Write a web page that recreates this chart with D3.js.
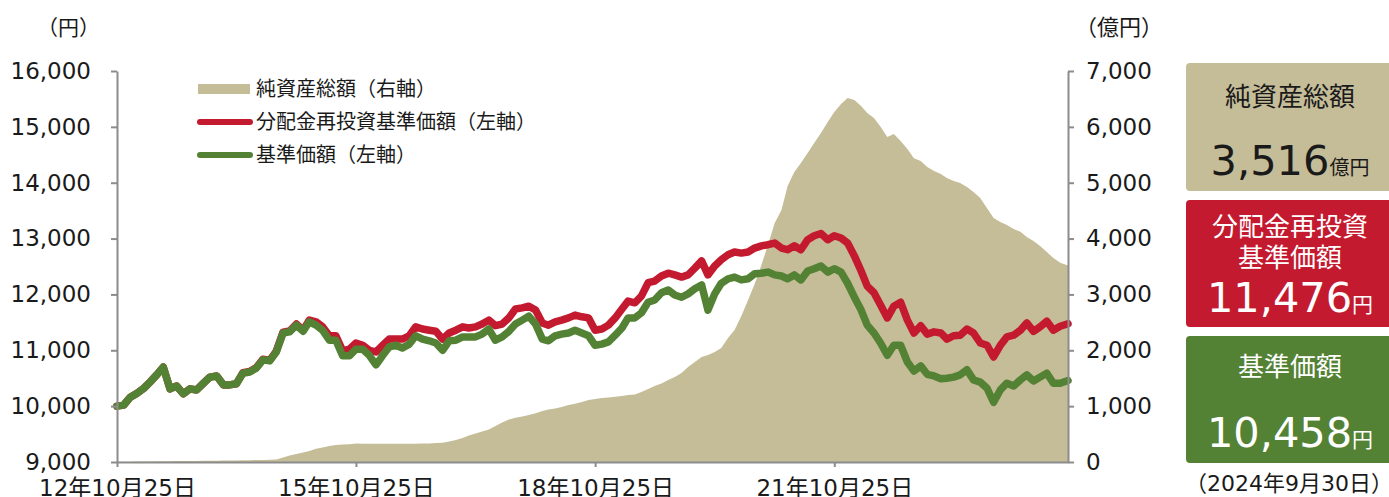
<!DOCTYPE html>
<html><head><meta charset="utf-8">
<script src="https://cdn.jsdelivr.net/npm/d3@7"></script>
<style>
body{margin:0;background:#fff;}
svg{display:block;}
text{font-family:"DejaVu Sans","Noto Sans CJK JP",sans-serif;}
</style></head><body>
<svg id="c" width="1389" height="497"></svg>
<script>
// ---- data ----
const dates = [
"2012-10-25","2012-11-25","2012-12-25",
"2013-01-25","2013-02-25","2013-03-25","2013-04-25","2013-05-25","2013-06-25","2013-07-25","2013-08-25","2013-09-25","2013-10-25","2013-11-25","2013-12-25",
"2014-01-25","2014-02-25","2014-03-25","2014-04-25","2014-05-25","2014-06-25","2014-07-25","2014-08-25","2014-09-25","2014-10-25","2014-11-25","2014-12-25",
"2015-01-25","2015-02-25","2015-03-25","2015-04-25","2015-05-25","2015-06-25","2015-07-25","2015-08-25","2015-09-25","2015-10-25","2015-11-25","2015-12-25",
"2016-01-25","2016-02-25","2016-03-25","2016-04-25","2016-05-25","2016-06-25","2016-07-25","2016-08-25","2016-09-25","2016-10-25","2016-11-25","2016-12-25",
"2017-01-25","2017-02-25","2017-03-25","2017-04-25","2017-05-25","2017-06-25","2017-07-25","2017-08-25","2017-09-25","2017-10-25","2017-11-25","2017-12-25",
"2018-01-25","2018-02-25","2018-03-25","2018-04-25","2018-05-25","2018-06-25","2018-07-25","2018-08-25","2018-09-25","2018-10-25","2018-11-25","2018-12-25",
"2019-01-25","2019-02-25","2019-03-25","2019-04-25","2019-05-25","2019-06-25","2019-07-25","2019-08-25","2019-09-25","2019-10-25","2019-11-25","2019-12-25",
"2020-01-25","2020-02-25","2020-03-25","2020-04-25","2020-05-25","2020-06-25","2020-07-25","2020-08-25","2020-09-25","2020-10-25","2020-11-25","2020-12-25",
"2021-01-25","2021-02-25","2021-03-25","2021-04-25","2021-05-25","2021-06-25","2021-07-25","2021-08-25","2021-09-25","2021-10-25","2021-11-25","2021-12-25",
"2022-01-25","2022-02-25","2022-03-25","2022-04-25","2022-05-25","2022-06-25","2022-07-25","2022-08-25","2022-09-25","2022-10-25","2022-11-25","2022-12-25",
"2023-01-25","2023-02-25","2023-03-25","2023-04-25","2023-05-25","2023-06-25","2023-07-25","2023-08-25","2023-09-25","2023-10-25","2023-11-25","2023-12-25",
"2024-01-25","2024-02-25","2024-03-25","2024-04-25","2024-05-25","2024-06-25","2024-07-25","2024-08-25","2024-09-30"
];
// 純資産総額（億円）
const netAssets = [
3,5,6,
8,9,10,12,14,15,16,17,18,20,21,22,
23,25,27,28,30,32,35,38,42,45,80,115,
145,170,195,235,260,285,305,315,320,330,325,328,
327,325,326,327,328,326,327,330,332,340,345,365,
395,430,475,510,545,580,645,705,760,790,815,840,
875,915,940,960,985,1020,1045,1075,1110,1130,1145,1155,
1170,1180,1200,1210,1255,1305,1360,1405,1470,1520,1595,1700,
1790,1880,1915,1970,2040,2220,2365,2615,2900,3185,3525,3885,
4280,4510,4940,5190,5355,5530,5710,5890,6085,6265,6410,6515,
6480,6375,6250,6160,6000,5820,5870,5745,5605,5440,5390,5280,
5210,5155,5085,5030,4995,4925,4835,4725,4545,4370,4295,4245,
4170,4120,4030,3955,3865,3760,3650,3565,3516
];
// 分配金再投資基準価額（円）
const reinvestNav = [
10000,10020,10160,
10230,10320,10430,10560,10700,10310,10360,10220,10310,10290,10410,10520,
10540,10380,10380,10400,10600,10620,10690,10840,10820,10985,11325,11345,
11470,11360,11540,11510,11420,11260,11260,10990,11020,11130,11090,11000,
10970,11090,11200,11200,11200,11260,11420,11380,11360,11340,11200,11310,
11360,11420,11400,11420,11470,11540,11440,11470,11580,11740,11760,11790,
11720,11490,11450,11510,11540,11580,11630,11600,11580,11360,11380,11450,
11580,11740,11880,11850,11970,12210,12240,12330,12380,12350,12310,12350,
12470,12600,12350,12510,12620,12710,12760,12740,12760,12830,12870,12890,
12920,12830,12800,12870,12800,12980,13050,13090,12980,13050,13010,12920,
12690,12420,12150,12030,11810,11580,11790,11860,11540,11310,11440,11290,
11330,11310,11200,11260,11270,11380,11310,11130,11090,10880,11090,11240,
11270,11360,11490,11340,11420,11520,11360,11430,11476
];
// 基準価額（円）
const nav = [
10000,10020,10160,
10230,10320,10430,10560,10700,10310,10360,10220,10310,10290,10410,10520,
10540,10380,10380,10400,10590,10610,10680,10830,10810,10970,11310,11330,
11450,11340,11510,11450,11360,11180,11180,10900,10900,11020,11020,10910,
10740,10910,11060,11090,11040,11110,11260,11200,11170,11130,11000,11170,
11180,11240,11240,11240,11290,11380,11180,11240,11340,11470,11540,11610,
11470,11200,11170,11260,11290,11310,11360,11310,11260,11090,11110,11150,
11270,11400,11580,11580,11670,11860,11900,12030,12080,11990,11950,12010,
12100,12170,11720,12010,12200,12280,12310,12260,12280,12370,12380,12400,
12350,12330,12280,12350,12260,12420,12460,12510,12400,12460,12400,12200,
11950,11720,11450,11310,11130,10910,11090,11090,10790,10630,10720,10570,
10540,10490,10500,10520,10560,10650,10470,10430,10320,10070,10290,10410,
10360,10470,10560,10450,10520,10590,10410,10410,10458
];
const leftTicks = [9000,10000,11000,12000,13000,14000,15000,16000];
const rightTicks = [0,1000,2000,3000,4000,5000,6000,7000];
const xTickDates = ["2012-10-25","2015-10-25","2018-10-25","2021-10-25"];
const xTickLabels = ["12年10月25日","15年10月25日","18年10月25日","21年10月25日"];
const legendLabels = ["純資産総額（右軸）","分配金再投資基準価額（左軸）","基準価額（左軸）"];
const boxTitles = [["純資産総額"],["分配金再投資","基準価額"],["基準価額"]];
const boxValues = ["3,516","11,476","10,458"];
const boxUnits = ["億円","円","円"];
const asOf = "（2024年9月30日）";

// ---- chart ----
const C = {tan:"#c5bd98", red:"#c41a30", green:"#548235", axis:"#8c8c8c", text:"#1a1a1a"};
const parse = d3.timeParse("%Y-%m-%d");
const data = dates.map((d,i)=>({date:parse(d), a:netAssets[i], r:reinvestNav[i], n:nav[i]}));
const svg = d3.select("#c");
const L=117, R=1068, T=71, B=462;
const x = d3.scaleTime().domain([parse("2012-10-25"), parse("2024-09-30")]).range([L,R]);
const yL = d3.scaleLinear().domain([9000,16000]).range([B,T]);
const yR = d3.scaleLinear().domain([0,7000]).range([B,T]);

svg.append("path").datum(data)
  .attr("fill",C.tan)
  .attr("d", d3.area().x(d=>x(d.date)).y0(yR(0)).y1(d=>yR(d.a)));

const line = key => d3.line().x(d=>x(d.date)).y(d=>yL(d[key]));
svg.append("path").datum(data).attr("fill","none").attr("stroke",C.red)
  .attr("stroke-width",7.5).attr("stroke-linejoin","round").attr("stroke-linecap","round")
  .attr("d", line("r"));
svg.append("path").datum(data).attr("fill","none").attr("stroke",C.green)
  .attr("stroke-width",7.5).attr("stroke-linejoin","round").attr("stroke-linecap","round")
  .attr("d", line("n"));

function styleAxis(g){
  g.select(".domain").attr("stroke",C.axis).attr("stroke-width",2);
  g.selectAll(".tick line").attr("stroke",C.axis).attr("stroke-width",2);
  g.selectAll("text").attr("fill",C.text).style("font-size","23px")
    .style("font-family",'"DejaVu Sans","Noto Sans CJK JP",sans-serif');
}
const gl = svg.append("g").attr("transform",`translate(${L},0)`)
  .call(d3.axisLeft(yL).tickValues(leftTicks).tickSize(6).tickSizeOuter(0).tickPadding(20).tickFormat(d3.format(",")));
styleAxis(gl);
const gr = svg.append("g").attr("transform",`translate(${R},0)`)
  .call(d3.axisRight(yR).tickValues(rightTicks).tickSize(6).tickSizeOuter(0).tickPadding(12).tickFormat(d3.format(",")));
styleAxis(gr);
const gb = svg.append("g").attr("transform",`translate(0,${B})`)
  .call(d3.axisBottom(x).tickValues(xTickDates.map(parse)).tickSize(5).tickSizeOuter(0)
    .tickFormat((d,i)=>xTickLabels[i]));
styleAxis(gb);
gb.selectAll("text").attr("y",34).attr("dy",0);

// unit labels
svg.append("text").attr("x",37).attr("y",35).text("（円）").attr("fill",C.text).style("font-size","21px");
svg.append("text").attr("x",1075).attr("y",35).text("（億円）").attr("fill",C.text).style("font-size","22px");

// legend
const lg = svg.append("g");
const ly = [89,122,155];
lg.append("rect").attr("x",198).attr("y",ly[0]-5).attr("width",52).attr("height",10).attr("fill",C.tan);
[[1,C.red],[2,C.green]].forEach(([i,c])=>{
  lg.append("line").attr("x1",200).attr("x2",250).attr("y1",ly[i]).attr("y2",ly[i])
    .attr("stroke",c).attr("stroke-width",6).attr("stroke-linecap","round");
});
legendLabels.forEach((t,i)=>{
  lg.append("text").attr("x",256).attr("y",ly[i]).attr("dy","0.36em").text(t)
    .attr("fill",C.text).style("font-size","20px");
});

// right boxes
const boxes = [
  {y:63,h:128,fill:C.tan,fc:C.text,titleY:[97],valY:175},
  {y:200,h:127,fill:C.red,fc:"#fff",titleY:[227,258],valY:312},
  {y:336,h:127,fill:C.green,fc:"#fff",titleY:[367],valY:447}
];
const bx=1186, bw=206, cx=1290;
boxes.forEach((b,i)=>{
  svg.append("rect").attr("x",bx).attr("y",b.y).attr("width",bw).attr("height",b.h)
    .attr("rx",4).attr("fill",b.fill);
  boxTitles[i].forEach((t,j)=>{
    svg.append("text").attr("x",cx).attr("y",b.titleY[j]).attr("dy","0.36em")
      .attr("text-anchor","middle").attr("fill",b.fc).style("font-size","26px").text(t);
  });
  const tv = svg.append("text").attr("x",cx).attr("y",b.valY).attr("text-anchor","middle").attr("fill",b.fc);
  tv.append("tspan").style("font-size","41.5px").text(boxValues[i]);
  tv.append("tspan").style("font-size", i===0?"20px":"21px").text(boxUnits[i]);
});
svg.append("text").attr("x",1289).attr("y",483).attr("dy","0.36em").attr("text-anchor","middle")
  .attr("fill",C.text).style("font-size","22px").text(asOf);
</script>
</body></html>
